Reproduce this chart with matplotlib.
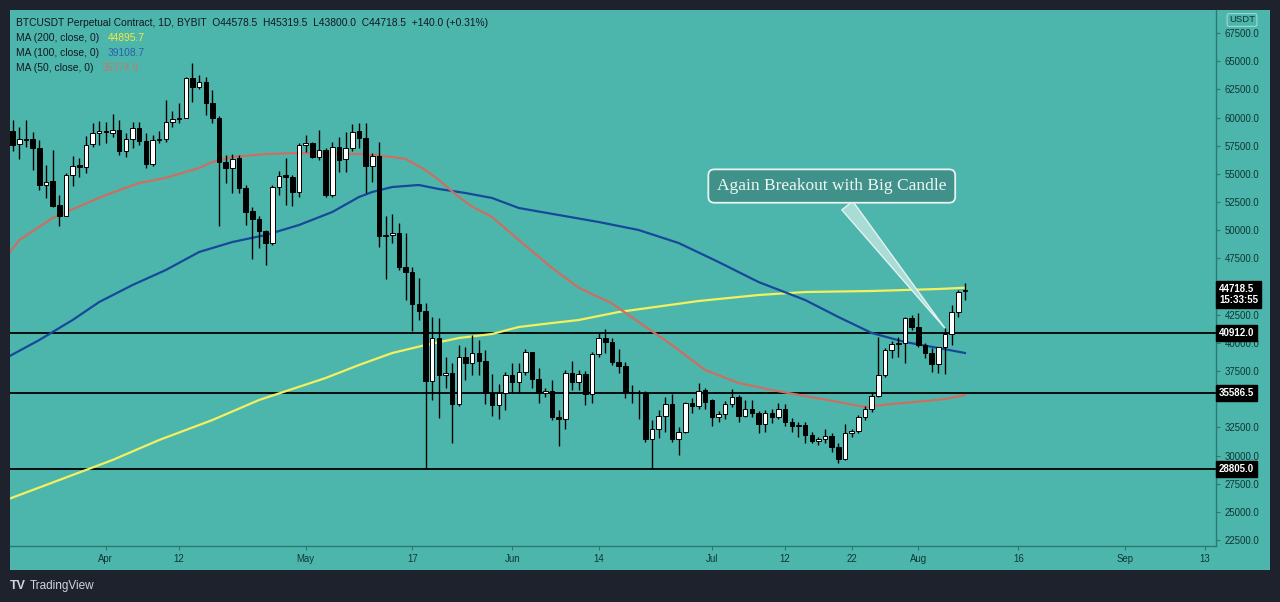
import matplotlib
matplotlib.use('Agg')
import matplotlib.pyplot as plt
import matplotlib.dates as mdates
from matplotlib.patches import Rectangle
from matplotlib.transforms import blended_transform_factory
import numpy as np
import pandas as pd

# daily candles, BTCUSDT perpetual (Bybit)
dates = pd.date_range('2021-03-18', '2021-08-08', freq='D')
opens = [58830, 57620, 58065, 58090, 57265, 54010, 54400, 52240, 51260, 54900,
         55760, 55640, 57650, 58650, 58770, 58650, 58890, 57060, 58090, 59100,
         57920, 55850, 58005, 58070, 59630, 59870, 59930, 63480, 62740, 63180,
         61260, 59990, 56020, 55490, 56380, 53720, 51730, 50990, 49960, 48890,
         53860, 54900, 54750, 53360, 57560, 57770, 56530, 57120, 53125, 57414,
         56290, 57266, 58805, 58154, 55699, 56586, 49487, 49620, 49783, 46706,
         46321, 43453, 42831, 36649, 40406, 37152, 37300, 34577, 38720, 38247,
         39134, 38424, 35560, 34491, 35586, 37153, 36562, 37449, 39165, 36769,
         35526, 35704, 33456, 33278, 37360, 36562, 37242, 35467, 39017, 40407,
         40052, 38277, 37981, 35674, 35526, 35600, 31500, 32363, 33546, 34551,
         31475, 32126, 34640, 34403, 35823, 34936, 33398, 33694, 34581, 35172,
         33546, 34137, 33753, 32777, 33753, 33457, 34137, 33013, 32658, 32718,
         31800, 31296, 31440, 31740, 30793, 29698, 31976, 32213, 33455, 34106,
         35289, 37153, 39371, 39904, 39962, 42181, 41383, 39815, 39075, 38129,
         39608, 40791, 42714, 44578.5]
highs = [59780, 59190, 59780, 58740, 58000, 55790, 57120, 53120, 55050, 56600,
         56380, 58360, 59480, 59720, 59630, 60310, 59780, 58600, 59570, 59570,
         58600, 58450, 58800, 61550, 60610, 61260, 63600, 64810, 63770, 63630,
         62440, 60100, 56670, 56730, 56670, 54010, 52090, 51260, 50000, 54010,
         55250, 56380, 54900, 57710, 58450, 57860, 58890, 57270, 57860, 58302,
         58745, 59426, 59485, 59485, 56823, 57858, 51262, 51439, 50611, 49783,
         46765, 45730, 43571, 42329, 42181, 38779, 38187, 39814, 39666, 40702,
         40258, 39370, 37242, 36355, 37449, 38189, 38189, 39431, 39224, 37745,
         35970, 36710, 34047, 37597, 38425, 37597, 37538, 39224, 40851, 41206,
         40407, 39431, 38337, 36266, 35822, 35700, 33161, 34048, 35232, 35468,
         32570, 34788, 35084, 36474, 35971, 34995, 33989, 34877, 35882, 35380,
         34936, 34936, 33989, 34048, 34108, 34640, 34581, 33309, 33013, 33013,
         32124, 31680, 32331, 31976, 31088, 32805, 32331, 33603, 34402, 35526,
         40495, 39519, 40199, 40495, 42329, 42477, 42625, 39963, 39519, 39667,
         41294, 43365, 44696, 45319.5]
lows = [57060, 56290, 57410, 55340, 53570, 52830, 52090, 50400, 51260, 53920,
        54690, 55050, 57350, 57560, 57770, 58300, 56670, 56470, 57270, 57560,
        55490, 55730, 57710, 57850, 59190, 59480, 59930, 61410, 62530, 60230,
        59480, 50400, 54160, 53270, 53330, 50460, 47450, 48390, 46910, 48690,
        53120, 52240, 52180, 52980, 56970, 56400, 56230, 52980, 52918, 55196,
        55196, 57059, 57266, 53332, 54308, 48481, 45641, 48836, 46500, 43808,
        41092, 42033, 28805, 34934, 33306, 35969, 31088, 34401, 36708, 37152,
        37152, 34579, 33545, 33219, 34047, 35674, 35674, 37153, 35970, 34698,
        35231, 33160, 30853, 32332, 35822, 35822, 34491, 34639, 38721, 39135,
        38041, 37301, 35083, 34698, 33219, 31200, 28805, 31534, 32126, 31238,
        30055, 31978, 33753, 34108, 34108, 32629, 33013, 33220, 34285, 33013,
        33398, 33457, 31978, 32126, 32925, 33220, 32629, 32126, 31682, 31090,
        31088, 30940, 31088, 30349, 29314, 29609, 31621, 32035, 33159, 33899,
        35230, 37005, 38632, 38780, 38188, 41146, 39667, 38632, 37449, 37301,
        37212, 39815, 42329, 43800.0]
closes = [57560, 58065, 57970, 57265, 54010, 54310, 52180, 51290, 54900, 55700,
          55640, 57560, 58650, 58770, 58680, 58890, 57060, 58090, 59100, 57920,
          55850, 58005, 58070, 59630, 59870, 59930, 63480, 62740, 63120, 61260,
          59930, 56080, 55490, 56320, 53720, 51650, 50990, 49960, 48890, 53860,
          54840, 54690, 53360, 57560, 57770, 56530, 57120, 53125, 57414, 56231,
          57266, 58745, 58154, 55699, 56586, 49487, 49620, 49783, 46706, 46321,
          43453, 42831, 36649, 40406, 37152, 37300, 34577, 38720, 38247, 39134,
          38424, 35560, 34491, 35586, 37153, 36562, 37449, 39165, 36769, 35526,
          35704, 33456, 33278, 37360, 36562, 37242, 35467, 39017, 40407, 40052,
          38277, 37981, 35674, 35526, 35600, 31500, 32363, 33546, 34551, 31475,
          32126, 34640, 34403, 35764, 34788, 33398, 33694, 34581, 35172, 33546,
          34108, 33753, 32777, 33753, 33457, 34108, 33013, 32658, 32718, 31800,
          31296, 31440, 31740, 30793, 29698, 31976, 32213, 33455, 34106, 35289,
          37153, 39371, 39904, 39962, 42181, 41383, 39815, 39075, 38129, 39608,
          40791, 42714, 44489, 44718.5]

# moving averages, sampled along the drawn curves
ma200_dates = ['2021-03-17', '2021-03-25', '2021-04-02', '2021-04-09', '2021-04-17',
               '2021-04-24', '2021-05-04', '2021-05-09', '2021-05-14', '2021-05-19',
               '2021-05-24', '2021-05-29', '2021-06-02', '2021-06-07', '2021-06-11',
               '2021-06-17', '2021-06-29', '2021-07-08', '2021-07-15', '2021-07-25',
               '2021-08-04', '2021-08-08']
ma200_vals = [26063, 27838, 29612, 31387, 33161, 34936, 36888, 38042, 39106, 39816,
              40437, 40792, 41413, 41768, 42034, 42744, 43720, 44253, 44519, 44608,
              44785, 44895.7]
ma100_dates = ['2021-03-17', '2021-03-22', '2021-03-27', '2021-03-31', '2021-04-05',
               '2021-04-10', '2021-04-15', '2021-04-20', '2021-04-25', '2021-04-30',
               '2021-05-05', '2021-05-09', '2021-05-11', '2021-05-14', '2021-05-18',
               '2021-05-21', '2021-05-25', '2021-05-29', '2021-06-02', '2021-06-08',
               '2021-06-14', '2021-06-20', '2021-06-26', '2021-07-02', '2021-07-08',
               '2021-07-15', '2021-07-20', '2021-07-25', '2021-07-30', '2021-08-04',
               '2021-08-08']
ma100_vals = [38663, 40260, 42034, 43632, 45140, 46471, 48068, 48955, 49577, 50464,
              51617, 52948, 53392, 53836, 54013, 53658, 53303, 52860, 51972, 51351,
              50730, 50020, 48867, 47181, 45406, 43809, 42301, 40881, 40082, 39550,
              39108.7]
ma50_dates = ['2021-03-17', '2021-03-19', '2021-03-24', '2021-03-26', '2021-04-01',
              '2021-04-06', '2021-04-10', '2021-04-15', '2021-04-17', '2021-04-20',
              '2021-04-25', '2021-04-30', '2021-05-05', '2021-05-09', '2021-05-14',
              '2021-05-16', '2021-05-19', '2021-05-21', '2021-05-24', '2021-05-26',
              '2021-05-29', '2021-06-02', '2021-06-07', '2021-06-11', '2021-06-16',
              '2021-06-20', '2021-06-25', '2021-06-30', '2021-07-05', '2021-07-10',
              '2021-07-15', '2021-07-20', '2021-07-24', '2021-07-28', '2021-08-02',
              '2021-08-05', '2021-08-08']
ma50_vals = [47600, 49133, 51085, 51617, 53126, 54190, 54650, 55521, 56054, 56497,
             56764, 56852, 56764, 56764, 56497, 56320, 55344, 54450, 52948, 52100,
             51174, 49133, 46648, 44900, 43500, 41857, 39816, 37598, 36444, 35823,
             35291, 34759, 34315, 34581, 34847, 35024, 35374.9]

levels = [40912.0, 35586.5, 28805.0]
last_price = 44718.5
countdown = '15:33:55'

tick_dates = ['2021-04-01', '2021-04-12', '2021-05-01', '2021-05-17', '2021-06-01',
              '2021-06-14', '2021-07-01', '2021-07-12', '2021-07-22', '2021-08-01',
              '2021-08-16', '2021-09-01', '2021-09-13']
tick_labels = ['Apr', '12', 'May', '17', 'Jun', '14', 'Jul', '12', '22', 'Aug',
               '16', 'Sep', '13']
price_ticks = np.arange(22500, 67501, 2500)
hidden_ticks = [35000, 45000]   # covered by the price tags

title = ('BTCUSDT Perpetual Contract, 1D, BYBIT  O44578.5  H45319.5  '
         'L43800.0  C44718.5  +140.0 (+0.31%)')
ma_legend = [('MA (200, close, 0)', '44895.7', '#f4ea3c'),
             ('MA (100, close, 0)', '39108.7', '#2a5fae'),
             ('MA (50, close, 0)', '35374.9', '#c27a6c')]

BG = '#4db6ac'
DARK = '#1e222d'
AXC = '#2b7a72'
TXT = '#0e3632'
W, H = 1280, 602

plt.rcParams['font.family'] = ['Liberation Sans', 'DejaVu Sans']

fig = plt.figure(figsize=(12.8, 6.02), dpi=100, facecolor=DARK)
fig.patches.append(Rectangle((10 / W, 32 / H), 1260 / W, 560 / H,
                             transform=fig.transFigure, fc=BG, ec='none', zorder=-5))
ax = fig.add_axes([10 / W, 56 / H, 1206 / W, 536 / H])
ax.set_facecolor(BG)

x = mdates.date2num(dates)
o = np.array(opens, float)
c = np.array(closes, float)
up = c >= o
body_lo = np.minimum(o, c)
body_h = np.maximum(np.abs(c - o), 70)

# moving averages first, candles on top
ax.plot(mdates.date2num(pd.to_datetime(ma200_dates)), ma200_vals, color='#f3f060', lw=1.6, zorder=2)
ax.plot(mdates.date2num(pd.to_datetime(ma100_dates)), ma100_vals, color='#17489a', lw=1.6, zorder=2)
ax.plot(mdates.date2num(pd.to_datetime(ma50_dates)), ma50_vals, color='#cc6f63', lw=1.6, zorder=2)

for lv in levels:
    ax.axhline(lv, color='black', lw=1.3, zorder=1.8)

ax.vlines(x, lows, highs, color='black', lw=1.0, zorder=3)
ax.bar(x, body_h, bottom=body_lo, width=0.68,
       color=np.where(up, 'white', 'black'), edgecolor='black', linewidth=0.7, zorder=4)

t0 = mdates.date2num(pd.Timestamp('2021-04-01'))
ax.set_xlim(t0 - 14.4, t0 + 166.7)
ax.set_ylim(21982, 69541)

for s in ['top', 'left']:
    ax.spines[s].set_visible(False)
for s in ['right', 'bottom']:
    ax.spines[s].set_color(AXC)
    ax.spines[s].set_linewidth(1.0)

ax.yaxis.tick_right()
ax.set_yticks(price_ticks)
ax.set_yticklabels(['' if v in hidden_ticks else '%.1f' % v for v in price_ticks])
ax.tick_params(axis='y', colors=AXC, labelcolor=TXT, labelsize=6.9, length=3, width=0.8, pad=3)
ax.set_xticks(mdates.date2num(pd.to_datetime(tick_dates)))
ax.set_xticklabels(tick_labels)
ax.tick_params(axis='x', colors=AXC, labelcolor=TXT, labelsize=6.9, length=3, width=0.8, pad=3)

# price scale tags
tr = blended_transform_factory(ax.transAxes, ax.transData)
for lv in levels:
    ax.text(1.0025, lv, '%.1f' % lv, transform=tr, ha='left', va='center', color='white',
            fontsize=7, fontweight='bold', clip_on=False, zorder=10,
            bbox=dict(boxstyle='square,pad=0.3', fc='black', ec='black'))
ax.annotate('%.1f\n%s' % (last_price, countdown), xy=(1.0025, last_price), xycoords=tr,
            xytext=(0, 6), textcoords='offset pixels', ha='left', va='top', color='white',
            fontsize=7, fontweight='bold', linespacing=1.2, annotation_clip=False, zorder=10,
            bbox=dict(boxstyle='square,pad=0.3', fc='black', ec='black'))
fig.text(1242 / W, 1 - 20 / H, 'USDT', ha='center', va='center', color=TXT, fontsize=6.8,
         bbox=dict(boxstyle='round,pad=0.2,rounding_size=0.2', fc=BG, ec='#9fd8d1', lw=0.8))

# callout
ax.annotate('Again Breakout with Big Candle',
            xy=(mdates.date2num(pd.Timestamp('2021-08-05')) + 0.2, 41150),
            xytext=(mdates.date2num(pd.Timestamp('2021-07-19')), 53920),
            ha='center', va='center', color='#eef7f6', fontsize=12.5,
            family=['Liberation Serif', 'DejaVu Serif'], zorder=12,
            bbox=dict(boxstyle='round,pad=0.5,rounding_size=0.35', fc='#3f9189', ec='#e6f3f1', lw=1.3),
            arrowprops=dict(arrowstyle='wedge,tail_width=0.8,shrink_factor=0.5',
                            fc='#a9dcd5', ec='#e6f3f1', lw=1.0))

# header legend
fig.text(16 / W, 1 - 23 / H, title, ha='left', va='center', color='#131722', fontsize=7.4)
for i, (lab, val, col) in enumerate(ma_legend):
    yy = 1 - (38 + 15 * i) / H
    fig.text(16 / W, yy, lab, ha='left', va='center', color='#131722', fontsize=7.4)
    fig.text((108 if i < 2 else 102) / W, yy, val, ha='left', va='center', color=col, fontsize=7.4)

# footer
fig.text(10 / W, 1 - 586 / H, 'TV', ha='left', va='center', color='#d1d4dc',
         fontsize=9, fontweight='heavy')
fig.text(30 / W, 1 - 586 / H, 'TradingView', ha='left', va='center', color='#d1d4dc', fontsize=8.5)

fig.savefig('out.png', dpi=100, facecolor=DARK)
